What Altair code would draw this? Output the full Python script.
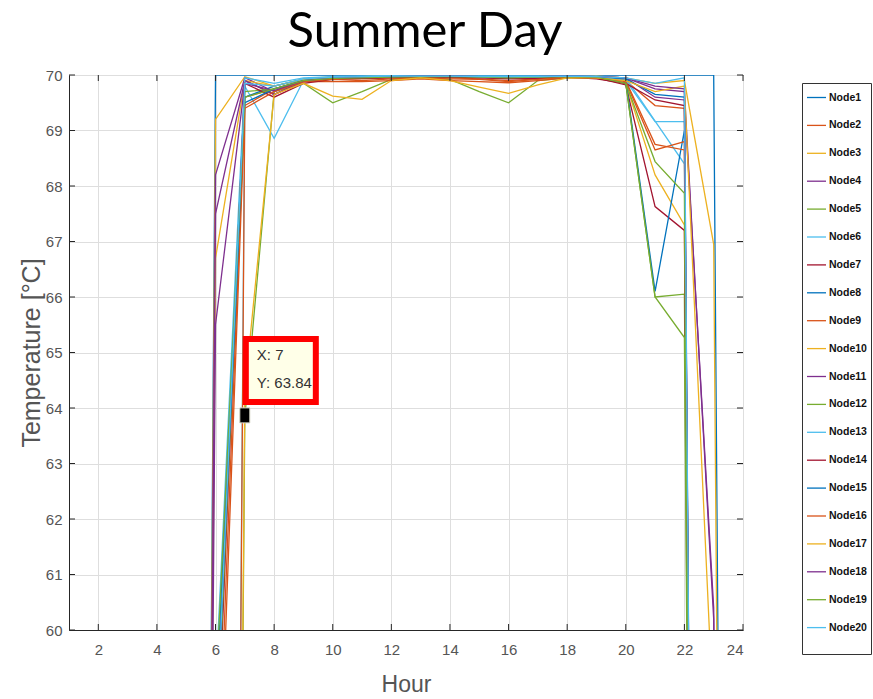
import altair as alt
import pandas as pd

# Hourly supply temperature (°C) of each network node over a summer day.
hours = list(range(1, 25))
node_names = [f"Node{i}" for i in range(1, 21)]

node01 = [0, 0, 0, 0, 0, 70.0, 70.0, 70.0, 70.0, 70.0, 70.0, 70.0, 70.0, 70.0, 70.0, 70.0, 70.0, 70.0, 70.0, 70.0, 70.0, 70.0, 70.0, 0]
node02 = [0, 0, 0, 0, 0, 56.0, 69.6, 69.75, 69.9, 69.93, 69.93, 69.95, 69.97, 69.95, 69.93, 69.9, 69.93, 69.96, 69.96, 69.9, 69.45, 69.4, 0, 0]
node03 = [0, 0, 0, 0, 0, 69.2, 69.97, 69.8, 69.93, 69.97, 69.97, 69.98, 69.98, 69.98, 69.97, 69.97, 69.97, 69.98, 69.97, 69.85, 68.2, 67.3, 0, 0]
node04 = [0, 0, 0, 0, 0, 68.2, 69.95, 69.7, 69.9, 69.95, 69.96, 69.97, 69.98, 69.98, 69.97, 69.96, 69.97, 69.98, 69.97, 69.95, 69.75, 69.7, 60.2, 0]
node05 = [0, 0, 0, 0, 0, 0, 63.84, 69.7, 69.85, 69.5, 69.7, 69.92, 69.95, 69.92, 69.7, 69.5, 69.9, 69.95, 69.95, 69.85, 66.0, 66.05, 0, 0]
node06 = [0, 0, 0, 0, 0, 0, 69.8, 68.86, 69.9, 69.95, 69.96, 69.97, 69.98, 69.98, 69.97, 69.96, 69.97, 69.98, 69.97, 69.95, 69.17, 68.4, 0, 0]
node07 = [0, 0, 0, 0, 0, 57.0, 69.9, 69.65, 69.88, 69.93, 69.95, 69.96, 69.97, 69.97, 69.96, 69.94, 69.95, 69.97, 69.95, 69.82, 67.63, 67.2, 0, 0]
node08 = [0, 0, 0, 0, 0, 58.5, 69.6, 69.8, 69.92, 69.96, 69.97, 69.98, 69.98, 69.98, 69.97, 69.97, 69.97, 69.98, 69.97, 69.9, 66.1, 69.0, 0, 0]
node09 = [0, 0, 0, 0, 0, 0, 69.45, 69.75, 69.88, 69.88, 69.88, 69.9, 69.93, 69.9, 69.88, 69.86, 69.9, 69.95, 69.95, 69.9, 68.75, 68.65, 0, 0]
node10 = [0, 0, 0, 0, 0, 66.7, 69.9, 69.8, 69.92, 69.96, 69.97, 69.98, 69.98, 69.98, 69.97, 69.97, 69.97, 69.98, 69.98, 69.95, 69.85, 69.9, 66.95, 0]
node11 = [0, 0, 0, 0, 0, 67.5, 69.9, 69.65, 69.88, 69.95, 69.96, 69.97, 69.98, 69.98, 69.97, 69.96, 69.97, 69.98, 69.97, 69.95, 69.6, 69.55, 60.4, 0]
node12 = [0, 0, 0, 0, 0, 57.5, 69.7, 69.75, 69.9, 69.95, 69.96, 69.97, 69.97, 69.97, 69.96, 69.95, 69.96, 69.97, 69.96, 69.85, 66.0, 65.27, 0, 0]
node13 = [0, 0, 0, 0, 0, 59.0, 69.95, 69.85, 69.95, 69.97, 69.98, 69.99, 69.99, 69.99, 69.98, 69.98, 69.98, 69.99, 69.98, 69.9, 69.16, 69.16, 0, 0]
node14 = [0, 0, 0, 0, 0, 57.8, 69.85, 69.6, 69.85, 69.92, 69.94, 69.95, 69.96, 69.96, 69.95, 69.93, 69.94, 69.96, 69.93, 69.85, 69.55, 69.45, 0, 0]
node15 = [0, 0, 0, 0, 0, 58.0, 69.5, 69.75, 69.9, 69.95, 69.96, 69.97, 69.98, 69.98, 69.97, 69.96, 69.97, 69.98, 69.97, 69.93, 69.65, 69.6, 0, 0]
node16 = [0, 0, 0, 0, 0, 55.0, 69.4, 69.7, 69.88, 69.92, 69.9, 69.93, 69.95, 69.93, 69.92, 69.88, 69.92, 69.96, 69.95, 69.88, 68.65, 68.8, 0, 0]
node17 = [0, 0, 0, 0, 0, 0, 64.3, 69.65, 69.85, 69.62, 69.56, 69.9, 69.95, 69.9, 69.78, 69.67, 69.82, 69.95, 69.95, 69.9, 69.7, 69.8, 58.3, 0]
node18 = [0, 0, 0, 0, 0, 65.5, 69.85, 69.72, 69.9, 69.95, 69.96, 69.97, 69.98, 69.98, 69.97, 69.96, 69.97, 69.98, 69.97, 69.95, 69.8, 69.75, 0, 0]
node19 = [0, 0, 0, 0, 0, 58.8, 69.6, 69.75, 69.9, 69.94, 69.95, 69.96, 69.97, 69.97, 69.96, 69.95, 69.96, 69.97, 69.96, 69.85, 68.44, 67.87, 0, 0]
node20 = [0, 0, 0, 0, 0, 57.8, 69.85, 69.8, 69.93, 69.96, 69.97, 69.98, 69.98, 69.98, 69.97, 69.97, 69.97, 69.98, 69.97, 69.95, 69.85, 69.95, 0, 0]

series = [node01, node02, node03, node04, node05, node06, node07, node08, node09, node10,
          node11, node12, node13, node14, node15, node16, node17, node18, node19, node20]

# nodes drawn with a heavier line
thick_nodes = ["Node5", "Node17"]

# data tip on Node5 at hour 7
tip_hour = [7]
tip_temp = [63.84]

x_ticks = [2, 4, 6, 8, 10, 12, 14, 16, 18, 20, 22, 24]
y_ticks = [60, 61, 62, 63, 64, 65, 66, 67, 68, 69, 70]

# seven-colour line order, repeated
base_colors = ["#0072BD", "#D95319", "#EDB120", "#7E2F8E", "#77AC30", "#4DBEEE", "#A2142F"]
colors = [base_colors[i % 7] for i in range(len(node_names))]
widths = [2.8 if n in thick_nodes else 1.3 for n in node_names]

rows = []
for name, vals in zip(node_names, series):
    for h, v in zip(hours, vals):
        rows.append({"node": name, "hour": h, "temp": v})
df = pd.DataFrame(rows)

PLOT_W, PLOT_H = 674, 555
SANS = "Liberation Sans, Arial, Helvetica"

x_scale = alt.Scale(domain=[1, 24], nice=False, zero=False)
y_scale = alt.Scale(domain=[60, 70], nice=False, zero=False)

# one shared legend for colour and line width
legend_cfg = dict(
    title=" ", titleOrient="bottom", titleFontSize=14, titlePadding=3,
    orient="none", legendX=733, legendY=8,
    symbolType="stroke", symbolSize=361, labelFont=SANS, labelFontSize=10.5,
    labelFontWeight="bold", labelColor="#111111", strokeColor="#333333",
    fillColor="white", padding=4, rowPadding=11.9, labelOffset=2,
)

lines = alt.Chart(df).mark_line(clip=True).encode(
    x=alt.X("hour:Q", scale=x_scale,
            axis=alt.Axis(values=x_ticks, title="Hour", grid=True, labelPadding=12,
                          titlePadding=16)),
    y=alt.Y("temp:Q", scale=y_scale,
            axis=alt.Axis(values=y_ticks, title="Temperature [°C]", grid=True,
                          labelPadding=7, titlePadding=1, titleFontSize=25)),
    color=alt.Color("node:N", scale=alt.Scale(domain=node_names, range=colors),
                    legend=alt.Legend(**legend_cfg)),
    strokeWidth=alt.StrokeWidth("node:N", scale=alt.Scale(domain=node_names, range=widths),
                                legend=alt.Legend(**legend_cfg)),
)

# inward tick marks on all four sides of the box
xt = pd.DataFrame({"hour": x_ticks})
yt = pd.DataFrame({"temp": y_ticks})
tick_color = "#262626"
bottom_ticks = alt.Chart(xt).mark_rule(color=tick_color).encode(
    x=alt.X("hour:Q", scale=x_scale), y=alt.value(PLOT_H), y2=alt.value(PLOT_H - 6))
top_ticks = alt.Chart(xt).mark_rule(color=tick_color).encode(
    x=alt.X("hour:Q", scale=x_scale), y=alt.value(0), y2=alt.value(6))
left_ticks = alt.Chart(yt).mark_rule(color=tick_color).encode(
    y=alt.Y("temp:Q", scale=y_scale), x=alt.value(0), x2=alt.value(6))
right_ticks = alt.Chart(yt).mark_rule(color=tick_color).encode(
    y=alt.Y("temp:Q", scale=y_scale), x=alt.value(PLOT_W), x2=alt.value(PLOT_W - 6))

tip_df = pd.DataFrame({"hour": tip_hour, "temp": tip_temp})
tip_base = alt.Chart(tip_df).encode(
    x=alt.X("hour:Q", scale=x_scale), y=alt.Y("temp:Q", scale=y_scale))

tip_box = tip_base.mark_rect(
    fill="#FFFFE8", stroke="#FF0000", strokeWidth=6,
    xOffset=1, x2Offset=71, yOffset=-78, y2Offset=-15,
).encode(x2=alt.X2("hour:Q"), y2=alt.Y2("temp:Q"))

tip_marker = tip_base.mark_rect(
    fill="black", stroke="#D8D8C8", strokeWidth=1,
    xOffset=-5, x2Offset=5, yOffset=-9, y2Offset=6,
).encode(x2=alt.X2("hour:Q"), y2=alt.Y2("temp:Q"))

tip_x_text = tip_base.transform_calculate(
    label="'X: ' + datum.hour"
).mark_text(align="left", baseline="middle", dx=12, dy=-62, font=SANS,
            fontSize=15, color="#333333").encode(text="label:N")

tip_y_text = tip_base.transform_calculate(
    label="'Y: ' + format(datum.temp, '.2f')"
).mark_text(align="left", baseline="middle", dx=12, dy=-34, font=SANS,
            fontSize=15, color="#333333").encode(text="label:N")

chart = alt.layer(
    lines, bottom_ticks, top_ticks, left_ticks, right_ticks,
    tip_box, tip_marker, tip_x_text, tip_y_text,
).properties(
    width=PLOT_W, height=PLOT_H,
    title=alt.TitleParams("Summer Day", font="Lato", fontSize=49, fontWeight="normal",
                          color="black", anchor="middle", dx=19, offset=11),
    autosize=alt.AutoSizeParams(type="none"),
    padding={"left": 69, "top": 75, "right": 130, "bottom": 69},
).configure_view(
    stroke="#262626", strokeWidth=1,
).configure_axis(
    domainColor="#262626", gridColor="#DEDEDE", gridWidth=1, tickSize=0,
    labelColor="#555555", titleColor="#555555", labelFont=SANS, titleFont=SANS,
    labelFontSize=15, titleFontSize=23, titleFontWeight="normal",
)

chart.save("out.html", embed_options={"renderer": "svg", "actions": False})
